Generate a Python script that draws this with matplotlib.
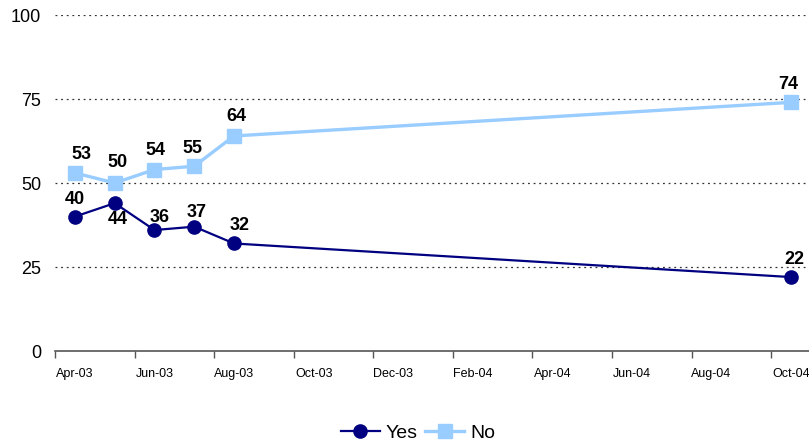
import matplotlib
matplotlib.use('Agg')
import matplotlib.pyplot as plt
from matplotlib.ticker import FixedLocator, NullFormatter

plt.rcParams['font.family'] = ['Liberation Sans', 'DejaVu Sans']

# monthly axis, Apr-03 .. Oct-04 (19 months)
months = ['Apr-03', 'May-03', 'Jun-03', 'Jul-03', 'Aug-03', 'Sep-03', 'Oct-03',
          'Nov-03', 'Dec-03', 'Jan-04', 'Feb-04', 'Mar-04', 'Apr-04', 'May-04',
          'Jun-04', 'Jul-04', 'Aug-04', 'Sep-04', 'Oct-04']
survey = ['Apr-03', 'May-03', 'Jun-03', 'Jul-03', 'Aug-03', 'Oct-04']
yes = [40, 44, 36, 37, 32, 22]
no = [53, 50, 54, 55, 64, 74]

# label offsets in points (dx, dy)
yes_off = [(0, 12), (2, -12), (4, 9), (2, 10), (4, 13), (2, 13)]
no_off = [(5, 13), (2, 15), (1, 14), (-1, 13), (2, 14), (-2, 13)]

xs = [months.index(m) for m in survey]

fig = plt.figure(figsize=(8.09, 4.47), dpi=100)
ax = fig.add_axes([55 / 809, 96 / 447, 756 / 809, 336 / 447])

ax.plot(xs, no, '-s', color='#99CCFF', lw=2.4, ms=9.5, label='No', zorder=3)
ax.plot(xs, yes, '-o', color='#000080', lw=1.6, ms=9.5, label='Yes', zorder=4)

for x, v, (dx, dy) in zip(xs, yes, yes_off):
    ax.annotate(str(v), (x, v), xytext=(dx, dy), textcoords='offset points',
                ha='center', va='center', fontsize=13, fontweight='bold')
for x, v, (dx, dy) in zip(xs, no, no_off):
    ax.annotate(str(v), (x, v), xytext=(dx, dy), textcoords='offset points',
                ha='center', va='center', fontsize=13, fontweight='bold')

ax.set_xlim(-0.5, len(months) - 0.5)
ax.set_ylim(0, 100)
ax.set_yticks([0, 25, 50, 75, 100])
ax.tick_params(axis='y', length=0, labelsize=13, pad=10)
for y in [25, 50, 75, 100]:
    ax.axhline(y, color='#333333', lw=0.9, ls=(0, (1.5, 3)), zorder=1)

# ticks on month boundaries, labels centred on the month
ax.xaxis.set_major_locator(FixedLocator([i - 0.5 for i in range(0, len(months), 2)]))
ax.xaxis.set_major_formatter(NullFormatter())
ax.xaxis.set_minor_locator(FixedLocator(range(0, len(months), 2)))
ax.set_xticklabels(months[::2], minor=True, fontsize=9,
                   family=['Liberation Sans Narrow', 'Liberation Sans'])
ax.tick_params(axis='x', which='major', length=5, color='#555555', width=1)
ax.tick_params(axis='x', which='minor', length=0, pad=12)

for s in ['top', 'right', 'left']:
    ax.spines[s].set_visible(False)
ax.spines['bottom'].set_color('#555555')
ax.spines['bottom'].set_linewidth(1.2)

h, l = ax.get_legend_handles_labels()
fig.legend(h[::-1], l[::-1], loc='center', bbox_to_anchor=(418 / 809, 1 - 433 / 447),
           ncol=2, frameon=False, fontsize=14, handlelength=2.0, handletextpad=0.3,
           columnspacing=0.4)

fig.savefig('out.png', dpi=100)
